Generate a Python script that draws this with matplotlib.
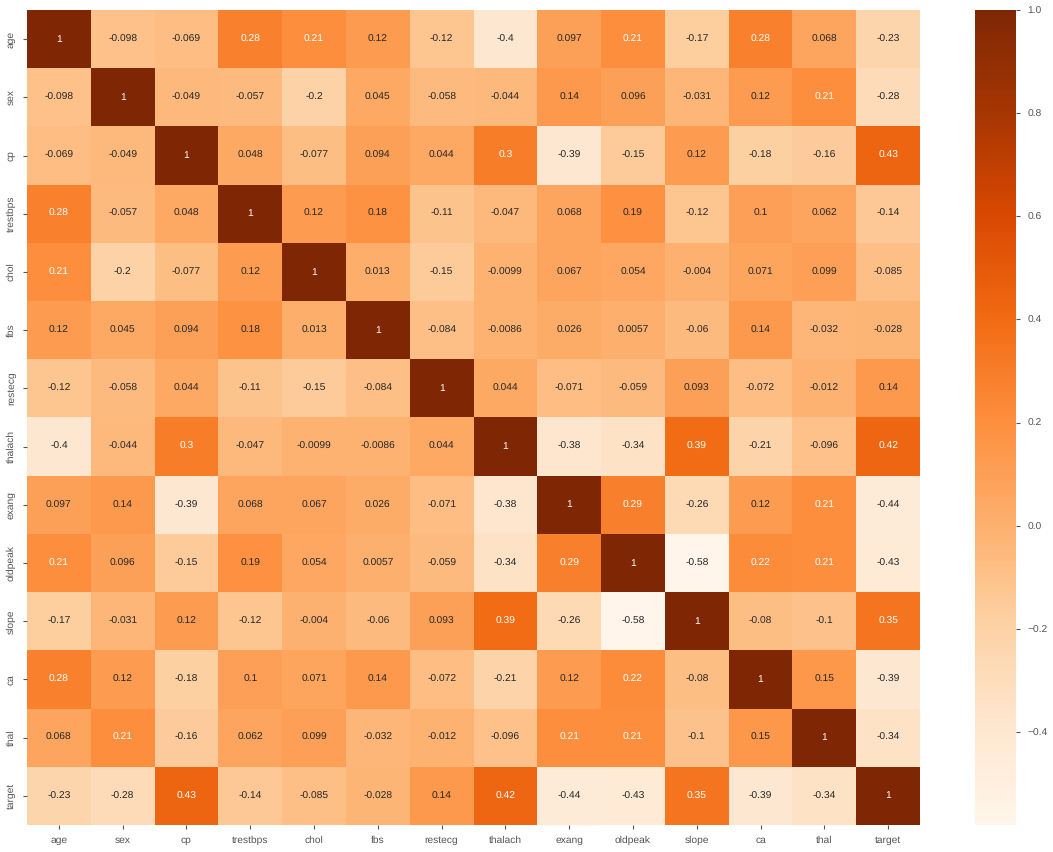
import numpy as np
import matplotlib
matplotlib.use("Agg")
import matplotlib.pyplot as plt

labels = ["age", "sex", "cp", "trestbps", "chol", "fbs", "restecg", "thalach",
          "exang", "oldpeak", "slope", "ca", "thal", "target"]

age = [1, -0.098, -0.069, 0.28, 0.21, 0.12, -0.12, -0.4, 0.097, 0.21, -0.17, 0.28, 0.068, -0.23]
sex = [-0.098, 1, -0.049, -0.057, -0.2, 0.045, -0.058, -0.044, 0.14, 0.096, -0.031, 0.12, 0.21, -0.28]
cp = [-0.069, -0.049, 1, 0.048, -0.077, 0.094, 0.044, 0.3, -0.39, -0.15, 0.12, -0.18, -0.16, 0.43]
trestbps = [0.28, -0.057, 0.048, 1, 0.12, 0.18, -0.11, -0.047, 0.068, 0.19, -0.12, 0.1, 0.062, -0.14]
chol = [0.21, -0.2, -0.077, 0.12, 1, 0.013, -0.15, -0.0099, 0.067, 0.054, -0.004, 0.071, 0.099, -0.085]
fbs = [0.12, 0.045, 0.094, 0.18, 0.013, 1, -0.084, -0.0086, 0.026, 0.0057, -0.06, 0.14, -0.032, -0.028]
restecg = [-0.12, -0.058, 0.044, -0.11, -0.15, -0.084, 1, 0.044, -0.071, -0.059, 0.093, -0.072, -0.012, 0.14]
thalach = [-0.4, -0.044, 0.3, -0.047, -0.0099, -0.0086, 0.044, 1, -0.38, -0.34, 0.39, -0.21, -0.096, 0.42]
exang = [0.097, 0.14, -0.39, 0.068, 0.067, 0.026, -0.071, -0.38, 1, 0.29, -0.26, 0.12, 0.21, -0.44]
oldpeak = [0.21, 0.096, -0.15, 0.19, 0.054, 0.0057, -0.059, -0.34, 0.29, 1, -0.58, 0.22, 0.21, -0.43]
slope = [-0.17, -0.031, 0.12, -0.12, -0.004, -0.06, 0.093, 0.39, -0.26, -0.58, 1, -0.08, -0.1, 0.35]
ca = [0.28, 0.12, -0.18, 0.1, 0.071, 0.14, -0.072, -0.21, 0.12, 0.22, -0.08, 1, 0.15, -0.39]
thal = [0.068, 0.21, -0.16, 0.062, 0.099, -0.032, -0.012, -0.096, 0.21, 0.21, -0.1, 0.15, 1, -0.34]
target = [-0.23, -0.28, 0.43, -0.14, -0.085, -0.028, 0.14, 0.42, -0.44, -0.43, 0.35, -0.39, -0.34, 1]

corr = np.array([age, sex, cp, trestbps, chol, fbs, restecg, thalach,
                 exang, oldpeak, slope, ca, thal, target])

plt.rcParams["font.family"] = ["Liberation Sans", "DejaVu Sans"]
plt.rcParams["text.hinting"] = "no_hinting"
text_col = "#262626"
tick_col = "#555555"
fs = 7.4

fig = plt.figure(figsize=(10.53, 8.52), dpi=100)
ax = fig.add_axes([27 / 1053, 1 - 825 / 852, (920 - 27) / 1053, (825 - 10) / 852])
cax = fig.add_axes([975 / 1053, 1 - 825 / 852, (1016 - 975) / 1053, (825 - 10) / 852])

mesh = ax.pcolormesh(corr, cmap="Oranges", vmin=corr.min(), vmax=1)
ax.set_xlim(0, 14)
ax.set_ylim(14, 0)
ax.set_xticks(np.arange(14) + 0.5)
ax.set_yticks(np.arange(14) + 0.5)
ax.set_xticklabels(labels, fontsize=fs, color=tick_col)
ax.set_yticklabels(labels, fontsize=fs, color=tick_col, rotation=90, va="center")
ax.tick_params(length=3, width=0.8, color=tick_col, pad=5)
for s in ax.spines.values():
    s.set_visible(False)

norm = mesh.norm
cmap = mesh.cmap
for i in range(14):
    for j in range(14):
        v = corr[i, j]
        r, g, b, _ = cmap(norm(v))
        lum = 0.2126 * r ** 2.2 + 0.7152 * g ** 2.2 + 0.0722 * b ** 2.2
        ax.text(j + 0.5, i + 0.5, f"{v:.2g}", ha="center", va="center",
                fontsize=fs, color="white" if lum < 0.408 else text_col)

cb = fig.colorbar(mesh, cax=cax)
cb.outline.set_visible(False)
cb.set_ticks(np.arange(-0.4, 1.01, 0.2))
cb.ax.set_yticklabels([f"{t:.1f}".replace("-", "\u2212") for t in np.arange(-0.4, 1.01, 0.2)],
                      fontsize=fs, color=tick_col)
cb.ax.tick_params(length=3, width=0.8, color=tick_col, pad=5)

fig.savefig("out.png", dpi=100)
